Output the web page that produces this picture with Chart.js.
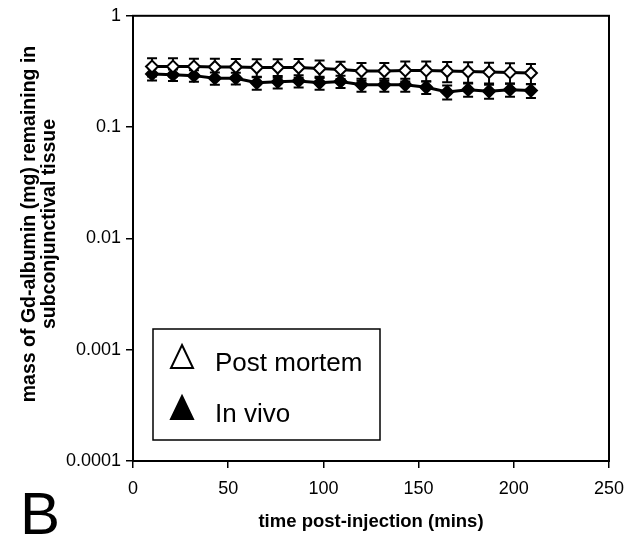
<!DOCTYPE html>
<html>
<head>
<meta charset="utf-8">
<script src="https://cdn.jsdelivr.net/npm/chart.js@4.4.0/dist/chart.umd.min.js"></script>
<style>
  html, body { margin: 0; padding: 0; background: #fff; }
  #wrap { width: 640px; height: 541px; }
</style>
</head>
<body>
<div id="wrap"><canvas id="gdChart"></canvas></div>
<script>
// sampling times (mins)
var times = [10, 21, 32, 43, 54, 65, 76, 87, 98, 109, 120, 132, 143, 154, 165, 176, 187, 198, 209];

// mass remaining (mg)
var postMortem    = [0.35, 0.35, 0.35, 0.347, 0.347, 0.343, 0.343, 0.343, 0.336, 0.329, 0.319, 0.319, 0.323, 0.323, 0.319, 0.316, 0.313, 0.31, 0.306];
var postMortemErr = [0.065, 0.065, 0.062, 0.065, 0.063, 0.063, 0.065, 0.066, 0.06, 0.058, 0.058, 0.058, 0.066, 0.066, 0.066, 0.066, 0.066, 0.065, 0.062];
var inVivo        = [0.30, 0.295, 0.29, 0.275, 0.275, 0.25, 0.255, 0.26, 0.25, 0.257, 0.24, 0.24, 0.24, 0.228, 0.207, 0.217, 0.21, 0.217, 0.213];
var inVivoErr     = [0.038, 0.035, 0.035, 0.035, 0.033, 0.033, 0.033, 0.033, 0.033, 0.033, 0.032, 0.032, 0.032, 0.03, 0.03, 0.03, 0.03, 0.03, 0.03];

var xTicks = [0, 50, 100, 150, 200, 250];
var yTicks = [0.0001, 0.001, 0.01, 0.1, 1];
var yTitle = ['mass of Gd-albumin (mg) remaining in', 'subconjunctival tissue'];

function toPoints(ys) {
  return times.map(function (t, i) { return { x: t, y: ys[i] }; });
}

// error bars with caps, drawn through the scales
var errorBars = {
  id: 'errorBars',
  beforeDatasetsDraw: function (chart) {
    var ctx = chart.ctx;
    var xs = chart.scales.x, ys = chart.scales.y;
    var sets = [[postMortem, postMortemErr], [inVivo, inVivoErr]];
    ctx.save();
    ctx.strokeStyle = '#000';
    ctx.lineWidth = 2;
    sets.forEach(function (s) {
      times.forEach(function (t, i) {
        var px = xs.getPixelForValue(t);
        var top = ys.getPixelForValue(s[0][i] + s[1][i]);
        var bot = ys.getPixelForValue(s[0][i] - s[1][i]);
        ctx.beginPath();
        ctx.moveTo(px, top); ctx.lineTo(px, bot);
        ctx.moveTo(px - 5, top); ctx.lineTo(px + 5, top);
        ctx.moveTo(px - 5, bot); ctx.lineTo(px + 5, bot);
        ctx.stroke();
      });
    });
    ctx.restore();
  }
};

// frame, y title, boxed legend and panel letter
var decorations = {
  id: 'decorations',
  afterDraw: function (chart) {
    var ctx = chart.ctx;
    var a = chart.chartArea;
    ctx.save();
    ctx.strokeStyle = '#000';
    ctx.lineWidth = 2;
    ctx.strokeRect(a.left, a.top, a.right - a.left, a.bottom - a.top);

    // y axis title, two lines
    ctx.save();
    ctx.translate(30, 224);
    ctx.rotate(-Math.PI / 2);
    ctx.fillStyle = '#000';
    ctx.font = 'bold 19.5px "Liberation Sans", Arial, sans-serif';
    ctx.textAlign = 'center';
    ctx.textBaseline = 'middle';
    ctx.fillText(yTitle[0], 0, 0);
    ctx.fillText(yTitle[1], 0, 20);
    ctx.restore();

    // legend box
    ctx.lineWidth = 1.5;
    ctx.fillStyle = '#fff';
    ctx.fillRect(153, 329, 227, 111);
    ctx.strokeRect(153, 329, 227, 111);
    var rows = [{ y: 357, fill: false }, { y: 408, fill: true }];
    chart.data.datasets.forEach(function (ds, i) {
      var r = rows[i];
      ctx.beginPath();
      ctx.moveTo(182, r.y - 12);
      ctx.lineTo(193, r.y + 11);
      ctx.lineTo(171, r.y + 11);
      ctx.closePath();
      ctx.fillStyle = r.fill ? '#000' : '#fff';
      ctx.fill();
      ctx.lineWidth = 2;
      ctx.stroke();
      ctx.fillStyle = '#000';
      ctx.font = '26px "Liberation Sans", Arial, sans-serif';
      ctx.textBaseline = 'alphabetic';
      ctx.fillText(ds.label, 215, r.y + 14);
    });

    ctx.font = '60px "Liberation Sans", Arial, sans-serif';
    ctx.fillText('B', 20, 534);
    ctx.restore();
  }
};

var tickFont = { family: '"Liberation Sans", Arial, sans-serif', size: 18 };
var titleFont = { family: '"Liberation Sans", Arial, sans-serif', size: 18.5, weight: 'bold', lineHeight: 1.1 };

var gdChart = new Chart(document.getElementById('gdChart'), {
  type: 'line',
  data: {
    datasets: [{
      label: 'Post mortem',
      data: toPoints(postMortem),
      borderColor: '#000',
      borderWidth: 3,
      pointStyle: 'rectRot',
      pointRadius: 6,
      pointBorderWidth: 2,
      pointBackgroundColor: '#fff',
      pointBorderColor: '#000',
      clip: false
    }, {
      label: 'In vivo',
      data: toPoints(inVivo),
      borderColor: '#000',
      borderWidth: 3,
      pointStyle: 'rectRot',
      pointRadius: 6,
      pointBorderWidth: 2,
      pointBackgroundColor: '#000',
      pointBorderColor: '#000',
      clip: false
    }]
  },
  options: {
    responsive: true,
    maintainAspectRatio: false,
    animation: false,
    layout: { padding: { top: 14, right: 31, left: 0, bottom: 0 } },
    plugins: {
      legend: { display: false },
      tooltip: { enabled: false }
    },
    scales: {
      x: {
        type: 'linear',
        min: 0,
        max: 250,
        afterBuildTicks: function (scale) {
          scale.ticks = xTicks.map(function (v) { return { value: v }; });
        },
        afterFit: function (scale) { scale.height = 80; },
        grid: { display: true, drawOnChartArea: false, drawTicks: true, tickLength: 7, color: '#000', lineWidth: 1.5 },
        border: { display: true, color: '#000', width: 2 },
        ticks: { color: '#000', font: tickFont, padding: 10, maxRotation: 0 },
        title: { display: true, text: 'time post-injection (mins)', color: '#000', font: titleFont, padding: { top: 0, bottom: 9 } }
      },
      y: {
        type: 'logarithmic',
        min: 0.0001,
        max: 1,
        afterBuildTicks: function (scale) {
          scale.ticks = yTicks.map(function (v) { return { value: v }; });
        },
        afterFit: function (scale) { scale.width = 133; },
        grid: { display: true, drawOnChartArea: false, drawTicks: true, tickLength: 7, color: '#000', lineWidth: 1.5 },
        border: { display: true, color: '#000', width: 2 },
        ticks: {
          color: '#000', font: tickFont, padding: 5,
          callback: function (v) { return String(v); }
        },
        title: { display: false }
      }
    }
  },
  plugins: [errorBars, decorations]
});
</script>
</body>
</html>
